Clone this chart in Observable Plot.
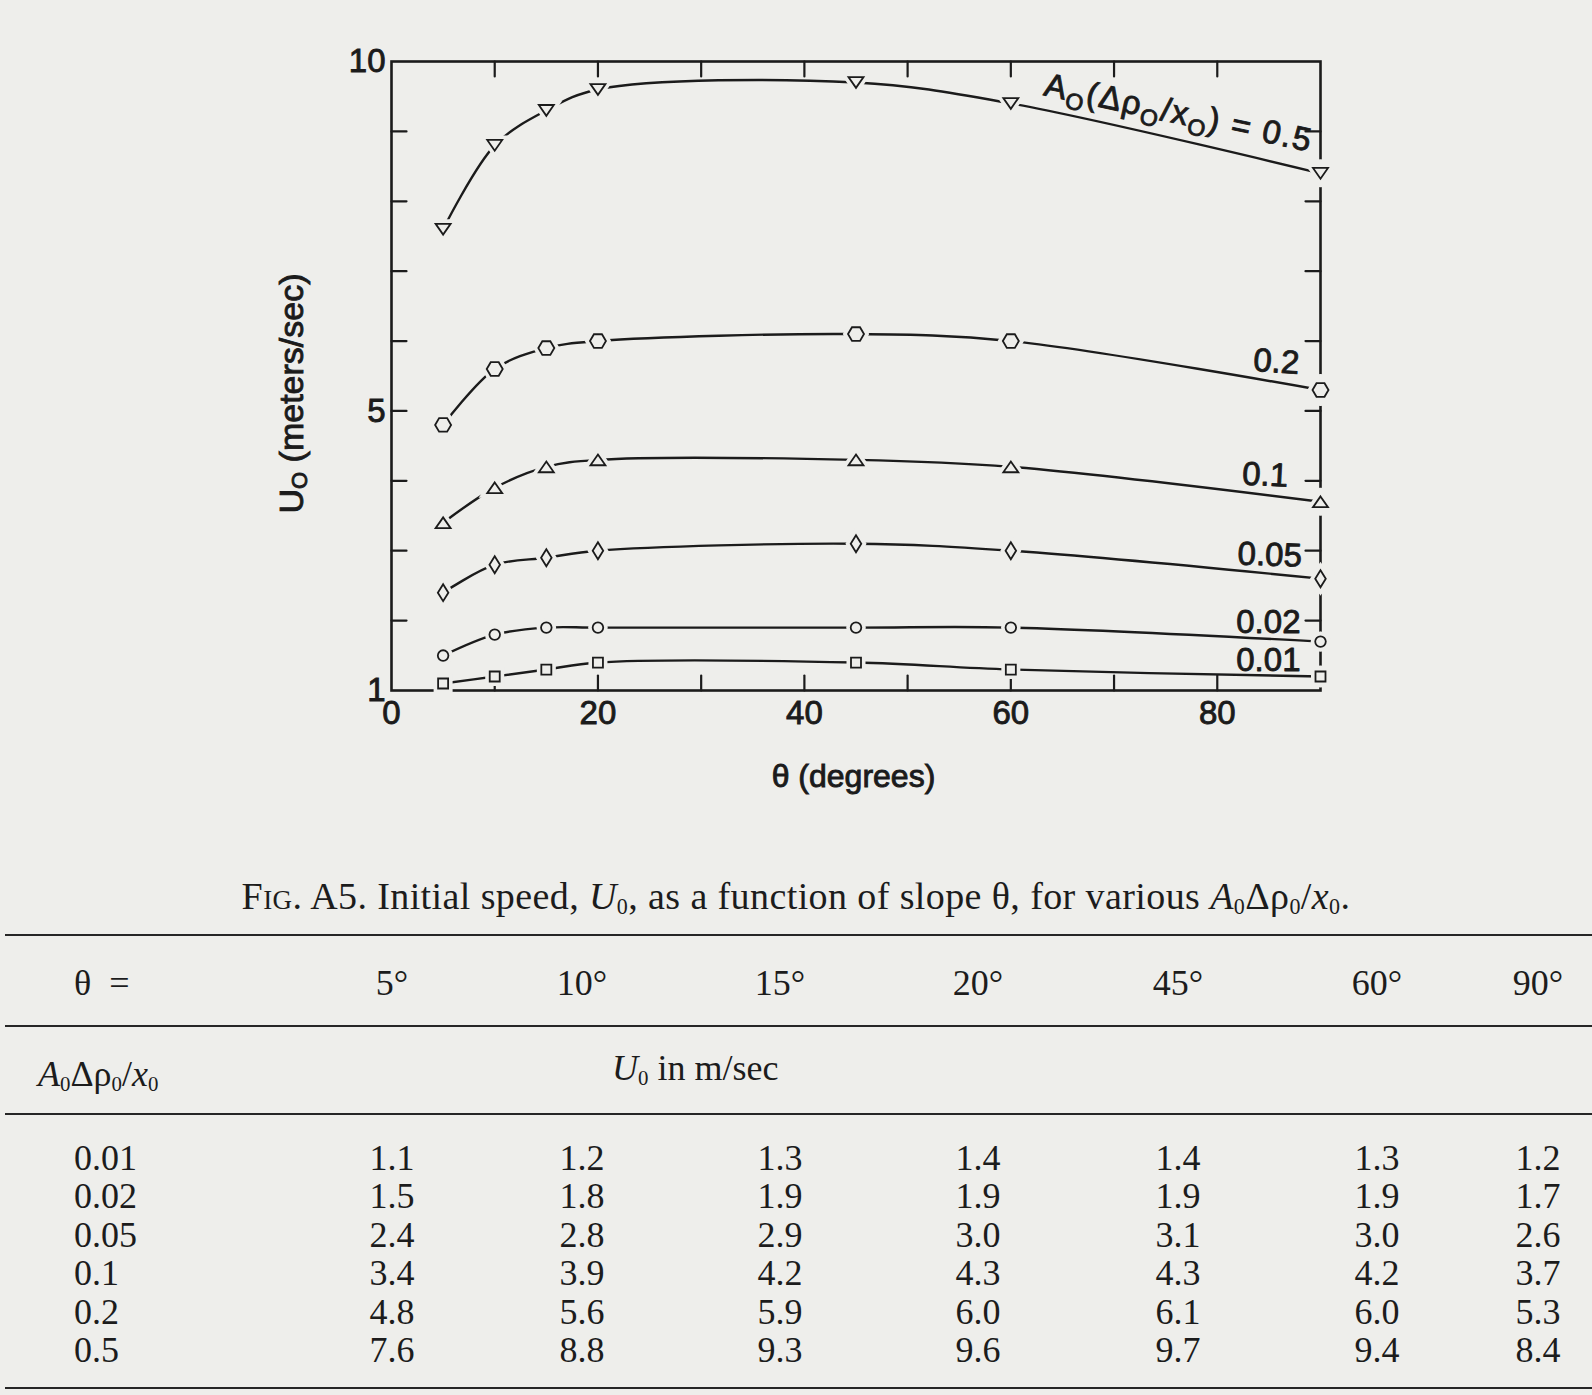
<!DOCTYPE html>
<html>
<head>
<meta charset="utf-8">
<script src="https://cdn.jsdelivr.net/npm/d3@7"></script>
<script src="https://cdn.jsdelivr.net/npm/@observablehq/plot@0.6"></script>
<style>
  html, body { margin: 0; padding: 0; background: #eeeeeb; }
  #page { position: relative; width: 1592px; height: 1395px; overflow: hidden; background: #eeeeeb; }
  #chart { position: absolute; left: 0; top: 0; }
  .serif { font-family: "Liberation Serif", "Times New Roman", Times, serif; color: #1c1c1c; }
  #caption { position: absolute; left: 0; width: 1592px; text-align: center; top: 876px; font-size: 38px; letter-spacing: 0.4px; line-height: 40px; white-space: nowrap; }
  .sc { font-variant: small-caps; }
  sub { font-size: 58%; vertical-align: -0.22em; line-height: 0; }
  .rule { position: absolute; left: 5px; right: 0; background: #262626; }
  .cell { position: absolute; transform: translate(-50%, -50%); white-space: nowrap; font-size: 36px; line-height: 38px; }
  .lcell { position: absolute; transform: translate(0, -50%); white-space: nowrap; font-size: 36px; line-height: 38px; }
</style>
</head>
<body>
<div id="page">
  <div id="chart"></div>
  <div id="caption" class="serif"><span class="sc">Fig</span>. A5. Initial speed, <i>U</i><sub>0</sub>, as a function of slope θ, for various <i>A</i><sub>0</sub>Δρ<sub>0</sub>/<i>x</i><sub>0</sub>.</div>
  <div id="table" class="serif"></div>
</div>
<script>
// ---------------- data ----------------
const thetas = [5, 10, 15, 20, 45, 60, 90];
const params = ["0.01", "0.02", "0.05", "0.1", "0.2", "0.5"];
const u001 = [1.1, 1.2, 1.3, 1.4, 1.4, 1.3, 1.2];
const u002 = [1.5, 1.8, 1.9, 1.9, 1.9, 1.9, 1.7];
const u005 = [2.4, 2.8, 2.9, 3.0, 3.1, 3.0, 2.6];
const u01  = [3.4, 3.9, 4.2, 4.3, 4.3, 4.2, 3.7];
const u02  = [4.8, 5.6, 5.9, 6.0, 6.1, 6.0, 5.3];
const u05  = [7.6, 8.8, 9.3, 9.6, 9.7, 9.4, 8.4];
const seriesValues = [u001, u002, u005, u01, u02, u05];
const xTickLabels = [0, 20, 40, 60, 80];
const yTickLabels = [1, 5, 10];
const xMinorTicks = [10, 20, 30, 40, 50, 60, 70, 80];
const yMinorTicks = [2, 3, 4, 5, 6, 7, 8, 9];

// ---------------- styling / layout ----------------
const INK = "#1b1b1b";
const BG = "#eeeeeb";
const W = 1592, H = 830;
const mL = 391, mR = 272, mT = 61, mB = 140;
const FS = 33, SW = 0.9;

const poly = (pts) => ({
  draw(ctx, size) {
    const r = Math.sqrt(size / Math.PI);
    ctx.moveTo(pts[0][0] * r, pts[0][1] * r);
    for (let i = 1; i < pts.length; i++) ctx.lineTo(pts[i][0] * r, pts[i][1] * r);
    ctx.closePath();
  }
});
const symSquare = poly([[-1, -1], [1, -1], [1, 1], [-1, 1]]);
const symDiamond = poly([[0, -1], [0.62, 0], [0, 1], [-0.62, 0]]);
const symTri = poly([[0, -0.72], [1, 0.72], [-1, 0.72]]);
const symInvTri = poly([[-1, -0.72], [1, -0.72], [0, 0.72]]);
const symHex = poly([[-1, 0], [-0.5, -0.85], [0.5, -0.85], [1, 0], [0.5, 0.85], [-0.5, 0.85]]);

const markerStyle = {
  "0.01": {symbol: symSquare, r: 5, halo: 11},
  "0.02": {symbol: "circle", r: 5.3, halo: 10},
  "0.05": {symbol: symDiamond, r: 8.5, halo: 15},
  "0.1":  {symbol: symTri, r: 7.5, halo: 14},
  "0.2":  {symbol: symHex, r: 8, halo: 16},
  "0.5":  {symbol: symInvTri, r: 7.5, halo: 14}
};
const labelStyle = {
  "0.01": {dx: -20, dy: -6, rotate: 0},
  "0.02": {dx: -20, dy: -9, rotate: 0},
  "0.05": {dx: -19, dy: -12, rotate: 2},
  "0.1":  {dx: -33, dy: -15, rotate: 3},
  "0.2":  {dx: -22, dy: -16, rotate: 4}
};

const rows = params.map((p, i) => thetas.map((t, j) => ({param: p, theta: t, u: seriesValues[i][j]}))).flat();
const bySeries = params.map(p => rows.filter(d => d.param === p));
const lastPoints = bySeries.map(s => s[s.length - 1]);

const tickShape = {draw(ctx, l) { ctx.moveTo(0, 0); ctx.lineTo(0, -l); }};
const tickOpts = {length: 15, anchor: "start", shape: tickShape, stroke: INK, strokeWidth: 2.2};

const marks = [
  Plot.frame({stroke: INK, strokeWidth: 2.6}),
  Plot.vector(xMinorTicks, {x: d => d, y: 1, rotate: 0, ...tickOpts}),
  Plot.vector(xMinorTicks, {x: d => d, y: 10, rotate: 180, ...tickOpts}),
  Plot.vector(yMinorTicks, {x: 0, y: d => d, rotate: 90, ...tickOpts}),
  Plot.vector(yMinorTicks, {x: 90, y: d => d, rotate: 270, ...tickOpts}),
  Plot.axisX(xTickLabels, {tickSize: 0, tickPadding: 10, anchor: "bottom", label: null, tickFormat: d => String(d), fontSize: FS}),
  Plot.axisY(yTickLabels, {tickSize: 0, tickPadding: 6, anchor: "left", label: null, tickFormat: d => String(d), fontSize: FS})
];
// gaps cut into the right-hand axis around the markers that sit on it
params.forEach((p, i) => {
  marks.push(Plot.dot([lastPoints[i]], {x: "theta", y: "u", r: markerStyle[p].halo, fill: BG, stroke: null}));
});
bySeries.forEach(s => {
  marks.push(Plot.line(s, {x: "theta", y: "u", curve: "catmull-rom", stroke: INK, strokeWidth: 2.4}));
});
params.forEach((p, i) => {
  const ms = markerStyle[p];
  marks.push(Plot.dot(bySeries[i], {x: "theta", y: "u", symbol: ms.symbol, r: ms.r, fill: BG, stroke: BG, strokeWidth: 9}));
  marks.push(Plot.dot(bySeries[i], {x: "theta", y: "u", symbol: ms.symbol, r: ms.r, fill: BG, stroke: INK, strokeWidth: 1.8}));
});
params.forEach((p, i) => {
  const ls = labelStyle[p];
  if (!ls) return;
  marks.push(Plot.text([lastPoints[i]], {x: "theta", y: "u", text: d => d.param, dx: ls.dx, dy: ls.dy, rotate: ls.rotate,
    textAnchor: "end", lineAnchor: "bottom", fontSize: FS, fill: INK, stroke: INK, strokeWidth: SW}));
});

const plot = Plot.plot({
  width: W, height: H,
  marginLeft: mL, marginRight: mR, marginTop: mT, marginBottom: mB,
  x: {domain: [0, 90], axis: null},
  y: {domain: [1, 10], axis: null},
  style: {fontFamily: "'Liberation Sans', Arial, Helvetica, sans-serif", fontSize: FS + "px", color: INK, background: "transparent"},
  marks
});
document.getElementById("chart").appendChild(plot);

// thicken the axis tick label text a touch (scan looks like Helvetica medium)
d3.select(plot).selectAll("g[aria-label$='tick label'] text").attr("stroke", INK).attr("stroke-width", SW);

// rich-text titles (with subscripts), positioned from the scales
const sx = plot.scale("x"), sy = plot.scale("y");
const svg = d3.select(plot);
const fontFam = "'Liberation Sans', Arial, Helvetica, sans-serif";

// y title
const yt = svg.append("text")
  .attr("transform", `translate(${sx.apply(0) - 100},${(sy.apply(1) + sy.apply(10)) / 2 + 18}) rotate(-90)`)
  .attr("text-anchor", "middle").attr("dominant-baseline", "central")
  .attr("font-family", fontFam).attr("font-size", 34).attr("fill", INK)
  .attr("stroke", INK).attr("stroke-width", SW);
yt.append("tspan").text("U");
yt.append("tspan").attr("font-size", 22).attr("dy", 8).text("O");
yt.append("tspan").attr("dy", -8).text(" (meters/sec)");

// x title
svg.append("text")
  .attr("x", (sx.apply(0) + sx.apply(90)) / 2 - 2)
  .attr("y", sy.apply(1) + 97)
  .attr("text-anchor", "middle")
  .attr("font-family", fontFam).attr("font-size", 32).attr("fill", INK)
  .attr("stroke", INK).attr("stroke-width", SW)
  .text("θ (degrees)");

// label of the top curve
const topEnd = lastPoints[params.indexOf("0.5")];
const lt = svg.append("text")
  .attr("transform", `translate(${sx.apply(topEnd.theta) - 10},${sy.apply(topEnd.u) - 21}) rotate(12)`)
  .attr("text-anchor", "end")
  .attr("font-family", fontFam).attr("font-size", 33).attr("letter-spacing", 1.6).attr("fill", INK)
  .attr("stroke", INK).attr("stroke-width", SW);
lt.append("tspan").text("A");
lt.append("tspan").attr("font-size", 23).attr("dy", 8).text("O");
lt.append("tspan").attr("dy", -8).text("(Δρ");
lt.append("tspan").attr("font-size", 23).attr("dy", 8).text("O");
lt.append("tspan").attr("dy", -8).text("/x");
lt.append("tspan").attr("font-size", 23).attr("dy", 8).text("O");
lt.append("tspan").attr("dy", -8).text(") = 0.5");

// ---------------- table ----------------
const colX = [392, 582, 780, 978, 1178, 1377, 1538];
const rowY = [1158, 1196, 1235, 1273, 1312, 1350];
const tbl = document.getElementById("table");
function add(cls, html, x, y) {
  const d = document.createElement("div");
  d.className = cls; d.innerHTML = html;
  d.style.left = x + "px"; d.style.top = y + "px";
  tbl.appendChild(d);
}
function rule(y, h) {
  const d = document.createElement("div");
  d.className = "rule"; d.style.top = (y - h / 2) + "px"; d.style.height = h + "px";
  tbl.appendChild(d);
}
rule(935, 2.8); rule(1026, 1.6); rule(1114, 1.6); rule(1388, 2.8);
add("lcell", "θ&nbsp;&nbsp;=", 74, 983);
thetas.forEach((t, j) => add("cell", t + "°", colX[j], 983));
add("lcell", "<i>A</i><sub>0</sub>Δρ<sub>0</sub>/<i>x</i><sub>0</sub>", 38, 1074);
add("lcell", "<i>U</i><sub>0</sub> in m/sec", 612, 1068);
params.forEach((p, i) => {
  add("lcell", p, 74, rowY[i]);
  seriesValues[i].forEach((v, j) => add("cell", v.toFixed(1), colX[j], rowY[i]));
});
</script>
</body>
</html>
